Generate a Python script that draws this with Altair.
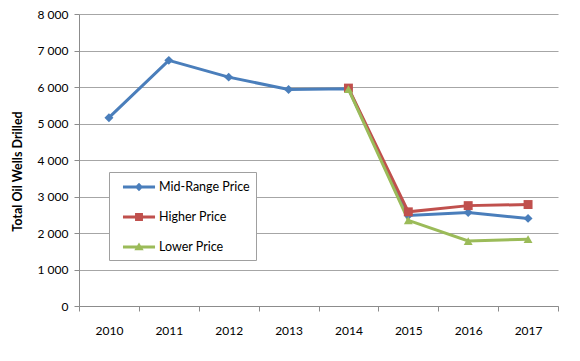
import altair as alt
import pandas as pd

years = ["2010", "2011", "2012", "2013", "2014", "2015", "2016", "2017"]
mid_values = [5160, 6730, 6270, 5930, 5950, 2480, 2560, 2400]
alt_years = ["2014", "2015", "2016", "2017"]
higher_values = [5970, 2580, 2750, 2780]
lower_values = [5940, 2345, 1780, 1830]
series_names = ["Mid-Range Price", "Higher Price", "Lower Price"]
series_colors = ["#4A7EBB", "#C0504D", "#9BBB59"]
series_shapes = ["diamond", "square", "triangle-up"]
y_ticks = [0, 1000, 2000, 3000, 4000, 5000, 6000, 7000, 8000]
y_title = "Total Oil Wells Drilled"

rows = []
for y, v in zip(years, mid_values):
    rows.append({"year": y, "value": v, "series": series_names[0], "k": 0})
for y, v in zip(alt_years, higher_values):
    rows.append({"year": y, "value": v, "series": series_names[1], "k": 1})
for y, v in zip(alt_years, lower_values):
    rows.append({"year": y, "value": v, "series": series_names[2], "k": 2})
df = pd.DataFrame(rows)

FONT = "Lato"

# legend symbols: line segment + marker (custom paths)
line_part = "M-1.78,-0.17 L1.78,-0.17 L1.78,0.17 L-1.78,0.17 Z "
p_mid = line_part + "M0,-0.46 L0.46,0 L0,0.46 L-0.46,0 Z"
p_hi = line_part + "M-0.44,-0.44 L0.44,-0.44 L0.44,0.44 L-0.44,0.44 Z"
p_lo = line_part + "M0,-0.5 L0.52,0.36 L-0.52,0.36 Z"
legend_paths = [p_mid, p_hi, p_lo]

x_enc = alt.X(
    "year:O",
    scale=alt.Scale(type="band", domain=years, paddingInner=0, paddingOuter=0),
    bandPosition=0.5,
    axis=alt.Axis(
        title=None, tickBand="extent", labelAngle=0, grid=False,
        labelFont=FONT, labelFontSize=12, labelColor="#000000",
        labelPadding=14, tickSize=5, tickColor="#8c8c8c",
        domainColor="#8c8c8c",
    ),
)
y_enc = alt.Y(
    "value:Q",
    scale=alt.Scale(domain=[0, 8000], nice=False),
    axis=alt.Axis(
        values=y_ticks, title=y_title,
        labelExpr="replace(format(datum.value, ','), ',', ' ')",
        labelFont=FONT, labelFontSize=12, labelColor="#000000", labelPadding=6,
        titleFont=FONT, titleFontSize=12.5, titleFontWeight="bold", titleColor="#000000",
        titlePadding=13, titleY=157, tickSize=5, tickColor="#8c8c8c", domainColor="#8c8c8c",
        gridColor="#a6a6a6", gridWidth=1.2,
    ),
)
color_scale = alt.Scale(domain=series_names, range=series_colors)
leg = alt.Legend(
    title=None, orient="none", legendX=30, legendY=158,
    fillColor="#ffffff", strokeColor="#a0a0a0", padding=6,
    symbolSize=324, symbolStrokeWidth=0, symbolOffset=15, labelOffset=11,
    rowPadding=14, labelFont=FONT, labelFontSize=12.5, labelColor="#000000",
    symbolOpacity=1,
)

base = alt.Chart(df)
lines = base.mark_line(strokeWidth=3).encode(
    x=x_enc, y=y_enc,
    color=alt.Color("series:N", scale=color_scale, legend=leg),
    order="k:Q", detail="series:N",
)
point_layers = []
for name, shp in zip(series_names, series_shapes):
    point_layers.append(
        base.transform_filter(alt.datum.series == name)
        .mark_point(filled=True, opacity=1, size=80, shape=shp)
        .encode(x=x_enc, y=y_enc, color=alt.Color("series:N", scale=color_scale, legend=leg))
    )
legend_layer = base.transform_filter("false").mark_point(filled=True, opacity=1).encode(
    x=x_enc, y=y_enc,
    color=alt.Color("series:N", scale=color_scale, legend=leg),
    shape=alt.Shape("series:N", scale=alt.Scale(domain=series_names, range=legend_paths), legend=leg),
)

chart = (
    alt.layer(lines, *point_layers, legend_layer)
    .properties(
        width=479, height=292,
        autosize=alt.AutoSizeParams(type="none"),
        padding={"left": 71, "top": 6, "right": 14, "bottom": 40},
    )
    .configure_view(stroke=None)
)

chart.save("out.html", embed_options={"renderer": "svg", "actions": False})
